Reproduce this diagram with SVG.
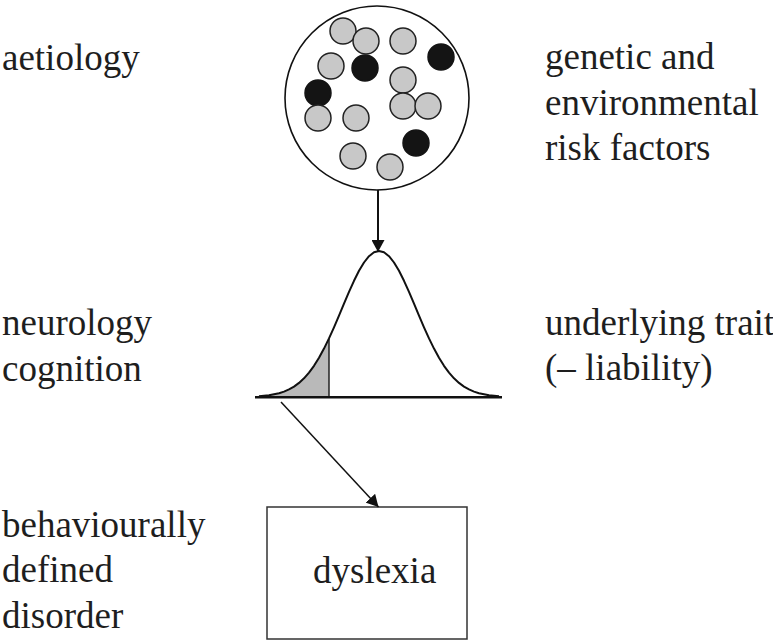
<svg xmlns="http://www.w3.org/2000/svg" width="773" height="641" viewBox="0 0 773 641">
<style>
text{font-family:'Liberation Serif','Tinos','Times New Roman','Noto Serif','DejaVu Serif',serif;font-size:37px;fill:#1e1e1e}
.g{fill:#c8c8c8;stroke:#222;stroke-width:1.5}
.b{fill:#141414;stroke:#141414;stroke-width:1.5}
.ln{stroke:#111;fill:none}
</style>
<defs>
<marker id="ah" viewBox="0 0 12 13" refX="12" refY="6.5" markerWidth="12" markerHeight="13" markerUnits="userSpaceOnUse" orient="auto">
<path d="M0,0 L12,6.5 L0,13 z" fill="#111"/>
</marker>
</defs>
<rect width="773" height="641" fill="#fff"/>

<g id="labels" font-family="Liberation Serif, serif">
<text x="2" y="70">aetiology</text>
<text x="2" y="335">neurology</text>
<text x="2" y="381">cognition</text>
<text x="2" y="537">behaviourally</text>
<text x="2" y="582">defined</text>
<text x="2" y="628">disorder</text>
<text x="545" y="69">genetic and</text>
<text x="545" y="115">environmental</text>
<text x="545" y="160">risk factors</text>
<text x="545" y="335">underlying trait</text>
<text x="545" y="380">(– liability)</text>
</g>

<g id="risk-factors">
<circle cx="377" cy="98" r="92" fill="#fff" stroke="#111" stroke-width="1.6"/>
<circle class="g" cx="343" cy="31" r="13"/>
<circle class="g" cx="366" cy="41" r="13"/>
<circle class="g" cx="403" cy="41" r="13"/>
<circle class="b" cx="441" cy="57" r="13"/>
<circle class="g" cx="331" cy="66" r="13"/>
<circle class="b" cx="365" cy="68" r="13"/>
<circle class="g" cx="403" cy="80" r="13"/>
<circle class="b" cx="318" cy="93" r="13"/>
<circle class="g" cx="403" cy="106" r="13"/>
<circle class="g" cx="428" cy="106" r="13"/>
<circle class="g" cx="318" cy="118" r="13"/>
<circle class="g" cx="356" cy="118" r="13"/>
<circle class="b" cx="416" cy="143" r="13"/>
<circle class="g" cx="353" cy="156" r="13"/>
<circle class="g" cx="390" cy="167" r="13"/>
</g>

<g id="trait-distribution">
<polygon points="259,396.2 269,395.2 279,393.2 289,389.4 299,382.9 309,372.6 319,357.8 329,338.4 329,397 259,397" fill="#b9b9b9"/>
<line x1="329" y1="338.4" x2="329" y2="397" stroke="#222" stroke-width="1.5"/>
<polyline class="ln" stroke-width="2" stroke-linejoin="round" points="259,396.2 269,395.2 279,393.2 284,391.6 289,389.4 294,386.6 299,382.9 304,378.3 309,372.6 314,365.8 319,357.8 324,348.6 329,338.4 334,327.3 339,315.6 344,303.7 349,291.9 354,280.8 359,270.8 364,262.5 369,256.2 374,252.3 379,251 384,252.3 389,256.2 394,262.5 399,270.8 404,280.8 409,291.9 414,303.7 419,315.6 424,327.3 429,338.4 434,348.6 439,357.8 444,365.8 449,372.6 454,378.3 459,382.9 464,386.6 469,389.4 474,391.6 479,393.2 489,395.2 499,396.2"/>
<line x1="255" y1="397.3" x2="502" y2="397.3" stroke="#111" stroke-width="2.5"/>
</g>

<g id="dyslexia">
<rect x="267" y="507" width="200" height="132" fill="#fff" stroke="#333" stroke-width="1.5"/>
<text x="313" y="583">dyslexia</text>
</g>

<g id="connectors">
<line class="ln" x1="378" y1="190" x2="378" y2="252" stroke-width="2" marker-end="url(#ah)"/>
<line class="ln" x1="281" y1="402" x2="378.5" y2="507" stroke-width="1.5" marker-end="url(#ah)"/>
</g>
</svg>
